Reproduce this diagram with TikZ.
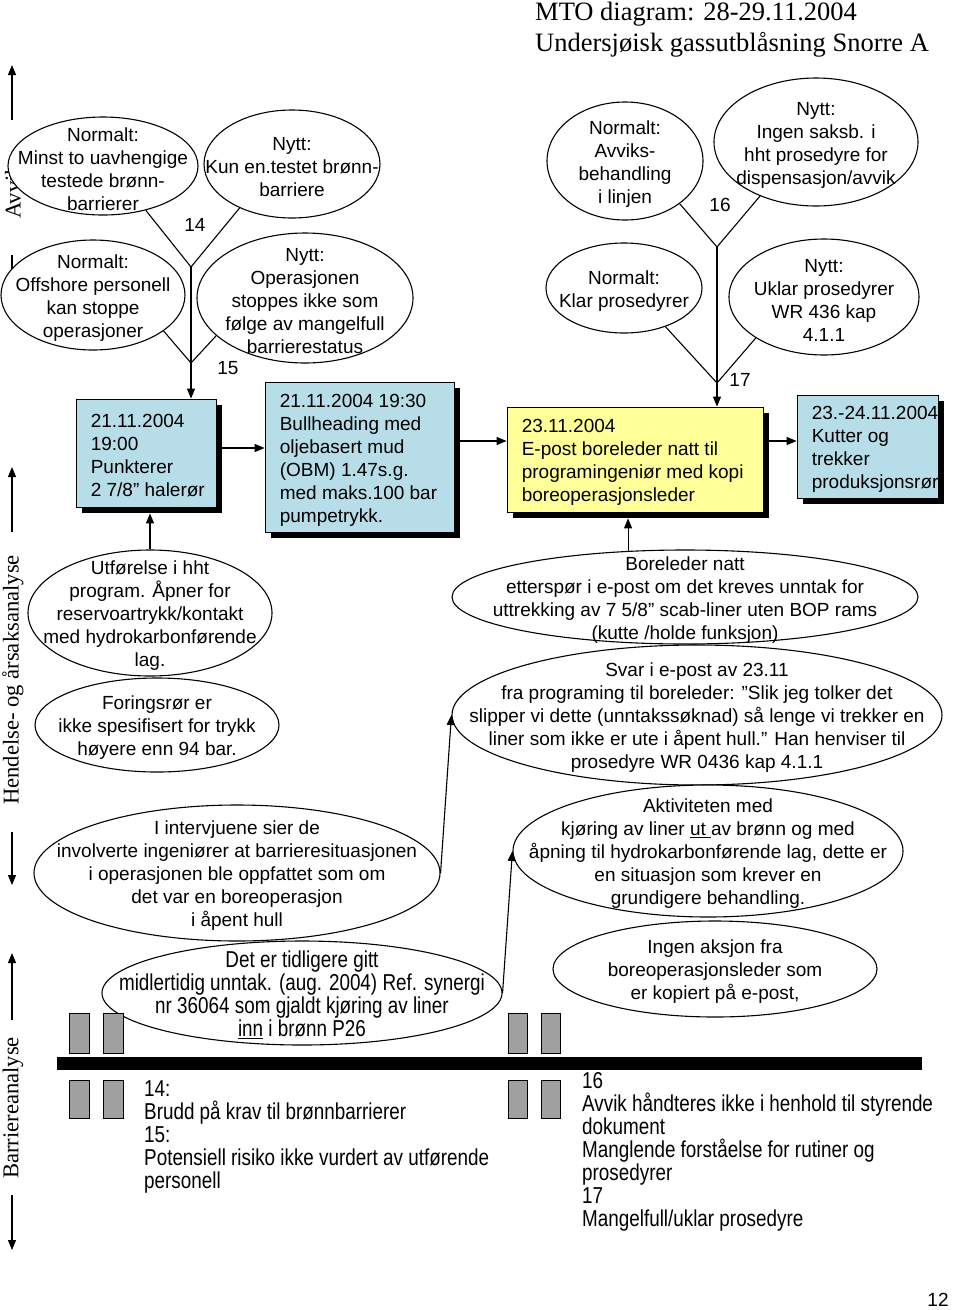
\documentclass[tikz,border=0pt]{standalone}
\usepackage{fontspec}
\setmainfont{Liberation Sans}
\newfontfamily\titlefont{Liberation Serif}
\newfontfamily\narrowfont[FakeStretch=0.82]{Liberation Sans}
\usetikzlibrary{shapes.geometric,arrows.meta,shadows}
\definecolor{boxblue}{RGB}{183,221,232}
\definecolor{boxyellow}{RGB}{255,255,153}
\definecolor{bargray}{RGB}{160,160,160}
\begin{document}
\begin{tikzpicture}[x=1pt,y=-1pt,
  ell/.style={ellipse, draw, fill=white, line width=1.1pt, inner sep=0pt},
  etxt/.style={align=center, font=\fontsize{19}{23}\selectfont, inner sep=0pt, yshift=-3pt},
  ntxt/.style={align=center, font=\narrowfont\fontsize{23}{23}\selectfont, inner sep=0pt, yshift=-2pt},
  bx/.style={draw, line width=0.8pt, inner sep=0pt, drop shadow={shadow xshift=6pt, shadow yshift=-6pt, fill=black, opacity=1}},
  btxt/.style={align=left, font=\fontsize{19}{23}\selectfont, inner sep=0pt, anchor=west, yshift=-3pt},
  ln/.style={line width=1.1pt},
  arr/.style={line width=1.1pt, -{Triangle[length=10pt,width=8pt]}},
  gr/.style={draw, fill=bargray, line width=0.8pt},
  axlabel/.style={font=\titlefont\fontsize{22.6}{26}\selectfont, rotate=90, inner sep=0pt},
  numlbl/.style={font=\fontsize{19}{23}\selectfont, inner sep=0pt}
]
\useasboundingbox (0,0) rectangle (960,1310);

% title
\node[anchor=north west, inner sep=0pt, align=left, font=\titlefont\fontsize{26.5}{31}\selectfont] (title) at (535,2)
  {MTO diagram: 28-29.11.2004\\Undersjøisk gassutblåsning Snorre A};

% left axis
\coordinate (a1s) at (12,120); \coordinate (a1e) at (12,65);
\coordinate (a2s) at (12,255); \coordinate (a2e) at (12,300);
\coordinate (a3s) at (12,532); \coordinate (a3e) at (12,467);
\coordinate (a4s) at (12,832); \coordinate (a4e) at (12,885);
\coordinate (a5s) at (12,1020); \coordinate (a5e) at (12,953);
\coordinate (a6s) at (12,1195); \coordinate (a6e) at (12,1250);
\draw[arr] (a1s) -- (a1e);
\draw[arr] (a2s) -- (a2e);
\draw[arr] (a3s) -- (a3e);
\draw[arr] (a4s) -- (a4e);
\draw[arr] (a5s) -- (a5e);
\draw[arr] (a6s) -- (a6e);
\node[axlabel, anchor=west] (lavvik) at (13,219) {Avvik};
\node[axlabel] (lhend) at (13,680) {Hendelse- og årsaksanalyse};
\node[axlabel] (lbarr) at (13,1108) {Barriereanalyse};

% upper left ellipses
\node[ell, minimum width=190, minimum height=98] (e1) at (103,166) {};
\node[etxt] (e1t) at (e1) {Normalt:\\Minst to uavhengige\\testede brønn-\\barrierer};
\node[ell, minimum width=176, minimum height=108] (e2) at (292,164) {};
\node[etxt] (e2t) at (e2) {Nytt:\\Kun en.testet brønn-\\barriere};
\node[ell, minimum width=184, minimum height=110] (e3) at (93,295) {};
\node[etxt] (e3t) at (e3) {Normalt:\\Offshore personell\\kan stoppe\\operasjoner};
\node[ell, minimum width=216, minimum height=130] (e4) at (305,298) {};
\node[etxt] (e4t) at (e4) {Nytt:\\Operasjonen\\stoppes ikke som\\følge av mangelfull\\barrierestatus};

% upper right ellipses
\node[ell, minimum width=156, minimum height=118] (e5) at (625,161) {};
\node[etxt] (e5t) at (e5) {Normalt:\\Avviks-\\behandling\\i linjen};
\node[ell, minimum width=204, minimum height=128] (e6) at (816,142) {};
\node[etxt] (e6t) at (e6) {Nytt:\\Ingen saksb. i\\hht prosedyre for\\dispensasjon/avvik};
\node[ell, minimum width=156, minimum height=90] (e7) at (624,288) {};
\node[etxt] (e7t) at (e7) {Normalt:\\Klar prosedyrer};
\node[ell, minimum width=190, minimum height=116] (e8) at (824,297) {};
\node[etxt] (e8t) at (e8) {Nytt:\\Uklar prosedyrer\\WR 436 kap\\4.1.1};

% tree connectors
\coordinate (v14) at (191,267);
\coordinate (v15) at (191,363);
\coordinate (v16) at (717,247);
\coordinate (v17) at (717,383);
\draw[ln] (e1.-46) -- (v14) -- (e2.-140);
\draw[ln] (e3.-27) -- (v15) -- (e4.-157);
\draw[ln] (e5.-38) -- (v16) -- (e6.-136);
\draw[ln] (e7.-43) -- (v17) -- (e8.-149);
\node[numlbl] (n14) at (195,225) {14};
\node[numlbl] (n15) at (228,368) {15};
\node[numlbl] (n16) at (720,205) {16};
\node[numlbl] (n17) at (740,380) {17};

% boxes
\node[bx, fill=boxblue, minimum width=140, minimum height=108] (b1) at (146,453) {};
\node[btxt] (b1t) at ([xshift=15pt]b1.west) {21.11.2004\\19:00\\Punkterer\\2 7/8” halerør};
\node[bx, fill=boxblue, minimum width=189, minimum height=150] (b2) at (359.5,457) {};
\node[btxt] (b2t) at ([xshift=15pt]b2.west) {21.11.2004 19:30\\Bullheading med\\oljebasert mud\\(OBM) 1.47s.g.\\med maks.100 bar\\pumpetrykk.};
\node[bx, fill=boxyellow, minimum width=256, minimum height=105] (b3) at (635,459.5) {};
\node[btxt] (b3t) at ([xshift=15pt]b3.west) {23.11.2004\\E-post boreleder natt til\\programingeniør med kopi\\boreoperasjonsleder};
\node[bx, fill=boxblue, minimum width=141, minimum height=103] (b4) at (867.5,446.5) {};
\begin{scope}
  \clip ([xshift=-1pt]b4.south west) rectangle ([xshift=1pt]b4.north east);
  \node[btxt] (b4t) at ([xshift=15pt]b4.west) {23.-24.11.2004\\Kutter og\\trekker\\produksjonsrør};
\end{scope}

\draw[arr] (v14) -- (v14 |- b1.north);
\draw[arr] (v16) -- (v16 |- b3.north);
\coordinate (y448) at (0,448);
\coordinate (y441) at (0,441);
\draw[arr] (b1.east |- y448) -- (b2.west |- y448);
\draw[arr] (b2.east |- y441) -- (b3.west |- y441);
\draw[arr] (b3.east |- y441) -- (b4.west |- y441);

% lower ellipses
\node[ell, minimum width=244, minimum height=126] (e9) at (150,613) {};
\node[etxt] (e9t) at (e9) {Utførelse i hht\\program. Åpner for\\reservoartrykk/kontakt\\med hydrokarbonførende\\lag.};
\node[ell, minimum width=244, minimum height=94] (e10) at (157,725) {};
\node[etxt] (e10t) at (e10) {Foringsrør er\\ikke spesifisert for trykk\\høyere enn 94 bar.};
\node[ell, minimum width=406, minimum height=136] (e11) at (237,873) {};
\node[etxt] (e11t) at (e11) {I intervjuene sier de\\involverte ingeniører at barrieresituasjonen\\i operasjonen ble oppfattet som om\\det var en boreoperasjon\\i åpent hull};
\node[ell, minimum width=400, minimum height=104] (edet) at (302,993) {};
\node[ntxt] (edett) at (edet) {Det er tidligere gitt\\midlertidig unntak. (aug. 2004) Ref. synergi\\nr 36064 som gjaldt kjøring av liner\\\underline{inn} i brønn P26};

\node[ell, minimum width=466, minimum height=94] (e12a) at (685,597) {};
\node[etxt] (e12at) at (e12a) {Boreleder natt\\etterspør i e-post om det kreves unntak for\\uttrekking av  7 5/8” scab-liner uten BOP rams\\(kutte /holde funksjon)};
\node[ell, minimum width=490, minimum height=140] (e12) at (697,715) {};
\node[etxt] (e12t) at (e12) {Svar i e-post av 23.11\\fra programing til boreleder: ”Slik jeg tolker det\\slipper vi dette (unntakssøknad) så lenge vi  trekker en\\liner som ikke er ute i åpent hull.” Han henviser til\\prosedyre WR 0436 kap 4.1.1};
\node[ell, minimum width=390, minimum height=132] (e13) at (708,851) {};
\node[etxt] (e13t) at (e13) {Aktiviteten med\\kjøring av liner \underline{ut }av brønn og med\\åpning til hydrokarbonførende lag, dette er\\en situasjon som krever en\\grundigere behandling.};
\node[ell, minimum width=324, minimum height=96] (e14) at (715,969) {};
\node[etxt] (e14t) at (e14) {Ingen aksjon fra\\boreoperasjonsleder som\\er kopiert på e-post,};

\coordinate (b1s) at ([yshift=-6pt]b1.south);
\coordinate (b3s) at ([yshift=-6pt]b3.south);
\draw[arr] (e9.north) -- (e9.north |- b1s);
\draw[arr] (e12a.141) -- (e12a.141 |- b3s);
\draw[arr] (e11.east) -- (e12.west);
\draw[arr] (edet.east) -- (e13.west);

% barrier
\fill[black] (57,1057) rectangle (922,1070);
\node[gr, minimum width=20, minimum height=40, inner sep=0pt] (g1) at (79,1033) {};
\node[gr, minimum width=20, minimum height=40, inner sep=0pt] (g2) at (113,1033) {};
\node[gr, minimum width=19, minimum height=40, inner sep=0pt] (g3) at (517.5,1033) {};
\node[gr, minimum width=19, minimum height=40, inner sep=0pt] (g4) at (550.5,1033) {};
\node[gr, minimum width=20, minimum height=38, inner sep=0pt] (g5) at (79,1099) {};
\node[gr, minimum width=20, minimum height=38, inner sep=0pt] (g6) at (113,1099) {};
\node[gr, minimum width=19, minimum height=38, inner sep=0pt] (g7) at (517.5,1099) {};
\node[gr, minimum width=19, minimum height=38, inner sep=0pt] (g8) at (550.5,1099) {};

\node[anchor=north west, align=left, inner sep=0pt, font=\narrowfont\fontsize{23}{23}\selectfont] (notes1) at (144,1080)
  {14:\\Brudd på krav til brønnbarrierer\\15:\\Potensiell risiko ikke vurdert av utførende\\personell};
\node[anchor=north west, align=left, inner sep=0pt, font=\narrowfont\fontsize{23}{23}\selectfont] (notes2) at (582,1072)
  {16\\Avvik håndteres ikke i henhold til styrende\\dokument\\Manglende forståelse for rutiner og\\prosedyrer\\17\\Mangelfull/uklar prosedyre};

\node[font=\fontsize{19}{23}\selectfont, inner sep=0pt] (page) at (938,1300) {12};
\end{tikzpicture}
\end{document}
